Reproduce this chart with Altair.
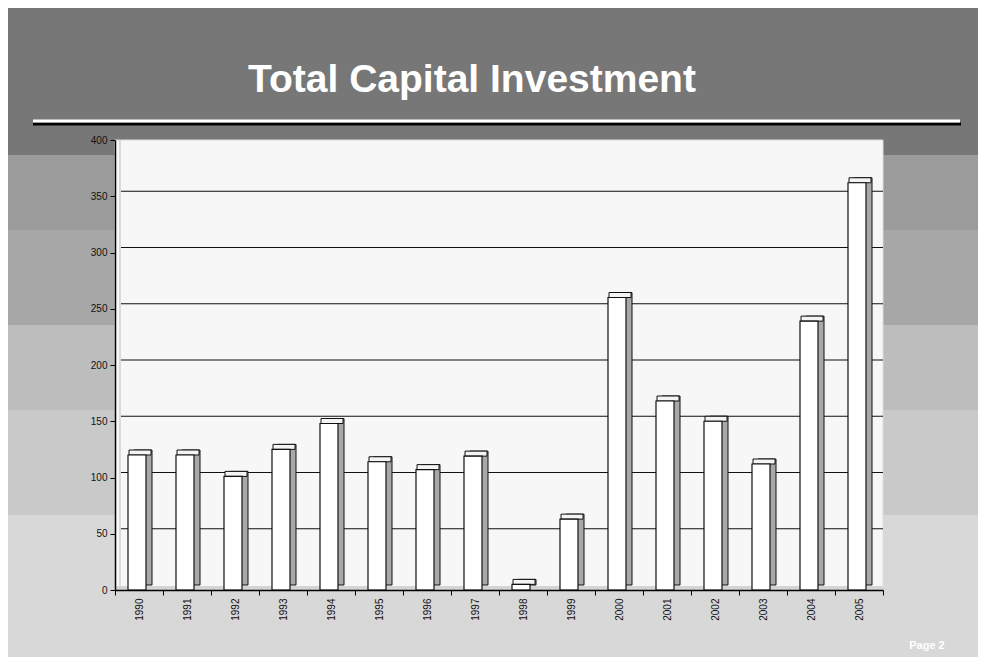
import altair as alt
import pandas as pd

# ---- data ----
years = ["1990", "1991", "1992", "1993", "1994", "1995", "1996", "1997",
         "1998", "1999", "2000", "2001", "2002", "2003", "2004", "2005"]
values = [120, 120, 101, 125, 148, 114, 107, 119, 5, 63, 260, 168, 150, 112, 239, 362]
y_ticks = [0, 50, 100, 150, 200, 250, 300, 350, 400]
grid_values = [50, 100, 150, 200, 250, 300, 350]
title_text = "Total Capital Investment"
page_text = "Page 2"

PW, PH = 768, 450
PAD = {"left": 107, "top": 132, "right": 95, "bottom": 67}

df = pd.DataFrame({"year": years, "value": values})
grid_df = pd.DataFrame({"g": grid_values})
one = pd.DataFrame({"k": [0]})

xscale = alt.Scale(domain=years, paddingInner=0, paddingOuter=0)
yscale = alt.Scale(domain=[0, 400], nice=False, zero=True)

# background bands (decorative)
bands = [
    (-132, 15, "#777777"),
    (15, 90, "#9b9b9b"),
    (90, 185, "#a7a7a7"),
    (185, 270, "#bdbdbd"),
    (270, 375, "#c9c9c9"),
    (375, 517, "#d8d8d8"),
]
band_layers = [
    alt.Chart(one).mark_rect(color=c).encode(
        x=alt.value(-PAD["left"]), x2=alt.value(PW + PAD["right"]),
        y=alt.value(t), y2=alt.value(b))
    for t, b, c in bands
]

plot_bg = alt.Chart(one).mark_rect(fill="#f7f7f7", stroke="#dddddd", strokeWidth=1).encode(
    x=alt.value(0), x2=alt.value(PW), y=alt.value(0), y2=alt.value(PH))

back_wall = alt.Chart(one).mark_rule(color="#d0d0d0", strokeWidth=1.5).encode(
    x=alt.value(5), y=alt.value(0), y2=alt.value(PH - 2))

floor = alt.Chart(one).mark_rect(fill="#d4d4d4").encode(
    x=alt.value(0), x2=alt.value(PW), y=alt.value(PH - 4), y2=alt.value(PH))

x_axis = alt.Axis(title=None, labelAngle=270, labelFont="Liberation Sans", labelFontSize=10,
                  labelColor="#111111", domainColor="#000000", domainWidth=1.5,
                  tickColor="#000000", tickSize=5, tickBand="extent", labelPadding=3,
                  zindex=1, labelBaseline="middle")
y_axis = alt.Axis(title=None, values=y_ticks, labelFont="Liberation Sans", labelFontSize=10,
                  labelColor="#111111", domainColor="#000000", domainWidth=1.5,
                  tickColor="#000000", tickSize=5, labelPadding=3, grid=False, zindex=1)

grid = alt.Chart(grid_df).mark_rule(color="#111111", strokeWidth=1.2, yOffset=-5).encode(
    y=alt.Y("g:Q", scale=yscale, axis=y_axis),
    x=alt.value(6), x2=alt.value(PW))

side = alt.Chart(df).mark_bar(size=18, xOffset=4, yOffset=-5, fill="#a8a8a8",
                              stroke="#111111", strokeWidth=1).encode(
    x=alt.X("year:N", scale=xscale, axis=x_axis, sort=years),
    y=alt.Y("value:Q", scale=yscale, axis=y_axis))

top = alt.Chart(df).mark_tick(size=22, thickness=5, xOffset=1, yOffset=-2.5,
                              fill="#f4f4f4", stroke="#111111", strokeWidth=1,
                              opacity=1).encode(
    x=alt.X("year:N", scale=xscale, axis=x_axis, sort=years),
    y=alt.Y("value:Q", scale=yscale, axis=y_axis))

front = alt.Chart(df).mark_bar(size=18, xOffset=-2, fill="#ffffff",
                               stroke="#111111", strokeWidth=1.2).encode(
    x=alt.X("year:N", scale=xscale, axis=x_axis, sort=years),
    y=alt.Y("value:Q", scale=yscale, axis=y_axis))

title_shadow = alt.Chart(one).mark_rule(color="#000000", strokeWidth=3).encode(
    x=alt.value(-82), x2=alt.value(846), y=alt.value(-16))
title_line = alt.Chart(one).mark_rule(color="#ffffff", strokeWidth=3).encode(
    x=alt.value(-82), x2=alt.value(845), y=alt.value(-19))

title = alt.Chart(one).mark_text(
    text=title_text, font="Liberation Sans", fontWeight="bold",
    fontSize=39, color="#ffffff", align="center", baseline="alphabetic").encode(
    x=alt.value(357), y=alt.value(-48))

page = alt.Chart(one).mark_text(
    text=page_text, font="Liberation Sans", fontWeight="bold",
    fontSize=11, color="#ffffff", align="center", baseline="middle").encode(
    x=alt.value(812), y=alt.value(506))

chart = alt.layer(
    *band_layers, plot_bg, back_wall, floor, grid, side, top, front,
    title_shadow, title_line, title, page
).properties(
    width=PW, height=PH, padding=PAD,
    autosize=alt.AutoSizeParams(type="none"),
    background="#ffffff"
).configure_view(stroke=None)

chart.save("out.html", embed_options={"renderer": "svg", "actions": False})
